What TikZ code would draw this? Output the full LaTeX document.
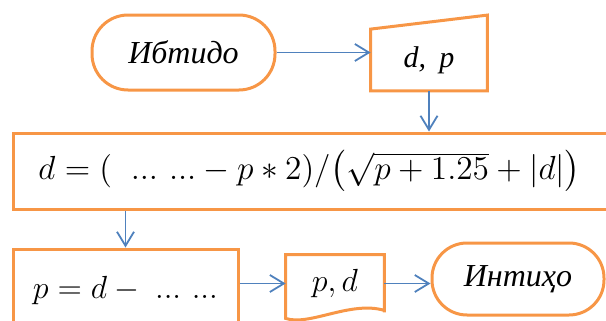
\RequirePackage{fix-cm}
\documentclass[tikz,border=0pt]{standalone}
\usepackage{amsmath}
\usepackage{fontspec}
\newfontfamily\timesfont{Liberation Serif}
\usetikzlibrary{positioning,calc,arrows.meta}
\definecolor{boxorange}{RGB}{247,150,70}
\definecolor{flowblue}{RGB}{79,129,189}
\newcommand\dts{\mathinner{{.}{.}{.}}}

\begin{document}
\begin{tikzpicture}[
    x=0.5pt, y=-0.5pt,
    terminal/.style={rectangle, draw=boxorange, line width=1.5pt, rounded corners=18pt, minimum width=91.5pt, minimum height=37.5pt, font=\timesfont\itshape\fontsize{16}{19}\selectfont},
    block/.style={rectangle, draw=boxorange, line width=1.5pt, font=\fontsize{16}{19}\selectfont},
    outline/.style={draw=boxorange, line width=1.5pt, line join=miter},
    line/.style={draw=flowblue, line width=0.9pt, -{Straight Barb[length=7pt,width=8.5pt]}}
]
    \useasboundingbox (0,0) rectangle (606,321);
    \clip (0,0) rectangle (606,321);

    \node [terminal] (start) at (183.5,52.5) {Ибтидо};
    \node [rectangle, minimum width=58pt, minimum height=30.5pt, font=\timesfont\itshape\fontsize{15}{18}\selectfont] (input) at (429,60) {d,\hspace{0.45em}p};
    \draw [outline] (input.south west) -- (input.north west) -- ($(input.north east)+(0,-14)$) -- (input.south east) -- cycle;

    \node [block, anchor=west, text width=285pt, align=left, inner xsep=12.5pt, minimum height=38pt, font=\fontsize{16.7}{19}\selectfont] (calc) at (12,171)
        {$d = (\;\;\dts\,\dts - p \ast 2)/\bigl(\sqrt{p+1.25}+|d|\bigr)$};
    \node [block, minimum width=112.5pt, minimum height=41pt] (update) at (125.5,290) {$p = d - \;\dts\,\dts$};

    \node [rectangle, minimum width=49pt, minimum height=28.5pt, font=\fontsize{16}{19}\selectfont] (output) at (335,283.5) {$p, d$};
    \draw [outline] (output.south east) -- (output.north east) -- (output.north west) -- ($(output.south west)+(0,6)$)
        .. controls ($(output.south west)+(24,14)$) and ($(output.south east)+(-34,-12)$) .. ($(output.south east)+(0,-2)$) -- cycle;

    \node [terminal, minimum width=86pt, minimum height=36pt, rounded corners=17.5pt] (stop) at (518,279) {Интиҳо};

    \draw [line] (start) -- (start -| input.west);
    \draw [line] (input.south) -- (input.south |- calc.north);
    \draw [line] (calc.south -| update.north) -- (update.north);
    \draw [line] (update.east |- output.west) -- (output.west);
    \draw [line] (output.east) -- (output.east -| stop.west);
\end{tikzpicture}
\end{document}
